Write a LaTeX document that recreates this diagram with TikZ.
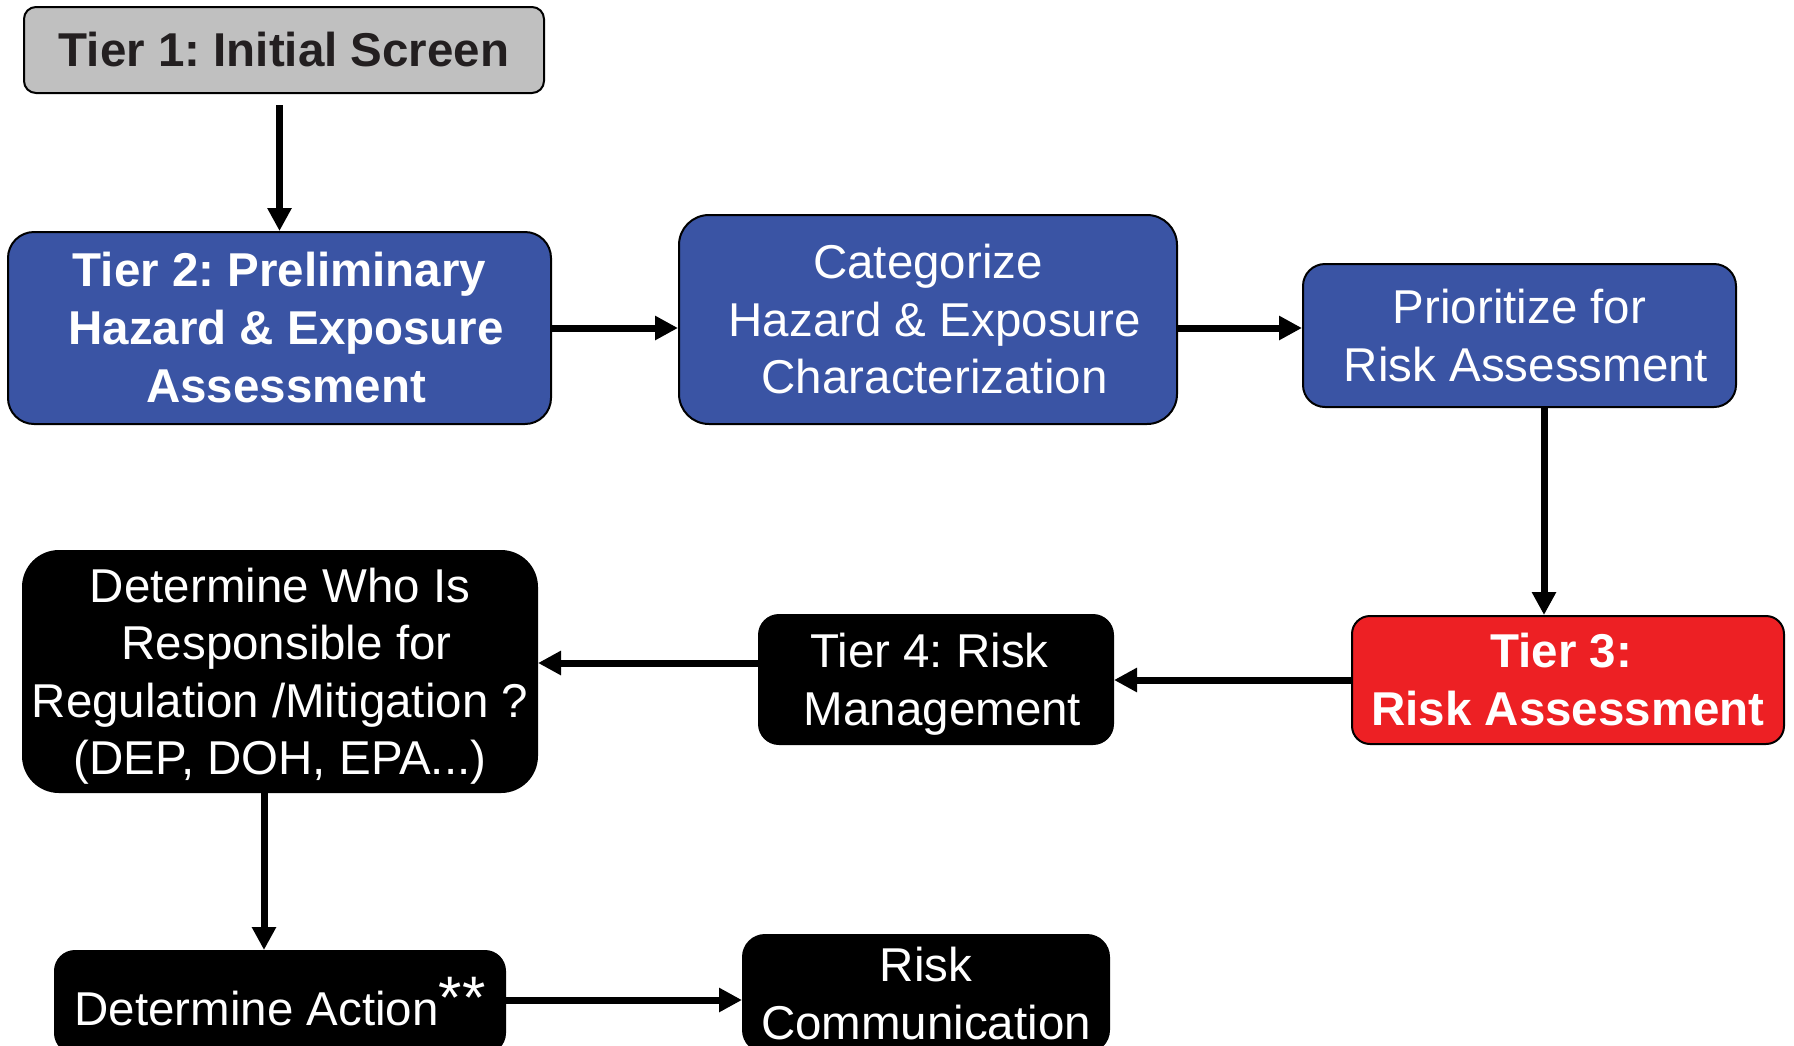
\documentclass[tikz,border=0pt]{standalone}
\usepackage{fontspec}
\setmainfont{Liberation Sans}
\usetikzlibrary{arrows.meta,positioning}
\definecolor{tierblue}{RGB}{58,84,164}
\definecolor{tierred}{RGB}{237,32,36}
\definecolor{tiergray}{RGB}{192,192,192}
\definecolor{tierink}{RGB}{35,31,32}
\frenchspacing

\begin{document}
\begin{tikzpicture}
[
    x=1pt, y=-1pt,
    box/.style={draw=black, line width=2pt, rounded corners=#1, align=center, inner sep=0pt,
        font=\fontsize{47.5}{57.5}\selectfont},
    box/.default=22pt,
    heavy/.style={font=\fontsize{47.5}{58}\selectfont\bfseries},
    flow/.style={-{Triangle[length=23pt,width=23pt]}, line width=7pt},
]
\path [use as bounding box, clip] (0,0) rectangle (1794,1045);
\node [box=12pt, heavy, fill=tiergray, text=tierink, minimum width=520pt, minimum height=86pt]
    (tier1) at (284,50) {Tier 1: Initial Screen};
\node [box=26pt, heavy, fill=tierblue, text=white, minimum width=543pt, minimum height=192pt]
    (tier2) at (279.5,328) {Tier 2: Preliminary\\\mbox{ }Hazard \& Exposure\\\mbox{ }Assessment};
\node [box=30pt, fill=tierblue, text=white, minimum width=498pt, minimum height=209pt]
    (cat) at (928,319.5) {Categorize\\\mbox{ }Hazard \& Exposure\\\mbox{ }Characterization};
\node [box, fill=tierblue, text=white, minimum width=433pt, minimum height=143pt]
    (prio) at (1519.5,335.5) {Prioritize for\\\mbox{ }Risk Assessment};
\node [box=18pt, heavy, fill=tierred, text=white, minimum width=432pt, minimum height=128pt]
    (tier3) at (1568,680) {Tier 3:\mbox{ }\\Risk Assessment};
\node [box=20pt, fill=black, text=white, minimum width=354pt, minimum height=129pt]
    (tier4) at (936,679.5) {Tier 4: Risk\mbox{ }\\\mbox{ }\smash{Management}};
\node [box=36pt, fill=black, text=white, minimum width=514pt, minimum height=241pt]
    (who) at (280,671.5) {Determine Who Is\\\mbox{ }Responsible for\\Regulation /Mitigation ?\\\smash{(DEP, DOH, EPA...)}};
\node [box=20pt, fill=black, text=white, minimum width=450pt, minimum height=102pt]
    (action) at (280,1002) {Determine Action\raisebox{7pt}{\fontsize{60}{60}\selectfont **}};
\node [box, fill=black, text=white, minimum width=366pt, minimum height=117pt]
    (comm) at (926,993.5) {Risk\\Communication};

\draw [flow, shorten <=11pt] (tier2.north |- tier1.south) -- (tier2.north);
\draw [flow] (tier2.east) -- (tier2.east -| cat.west);
\draw [flow] (tier2.east -| cat.east) -- (tier2.east -| prio.west);
\draw [flow] ([xshift=24.5pt]prio.south) -- ([xshift=24.5pt]prio.south |- tier3.north);
\draw [flow] (tier3.west) -- (tier3.west -| tier4.east);
\draw [flow] ([yshift=16.5pt]tier4.west) -- ([yshift=16.5pt]tier4.west -| who.east);
\draw [flow] ([xshift=-16pt]who.south) -- ([xshift=-16pt]who.south |- action.north);
\draw [flow] ([yshift=2pt]action.east) -- ([yshift=2pt]action.east -| comm.west);
\end{tikzpicture}
\end{document}
